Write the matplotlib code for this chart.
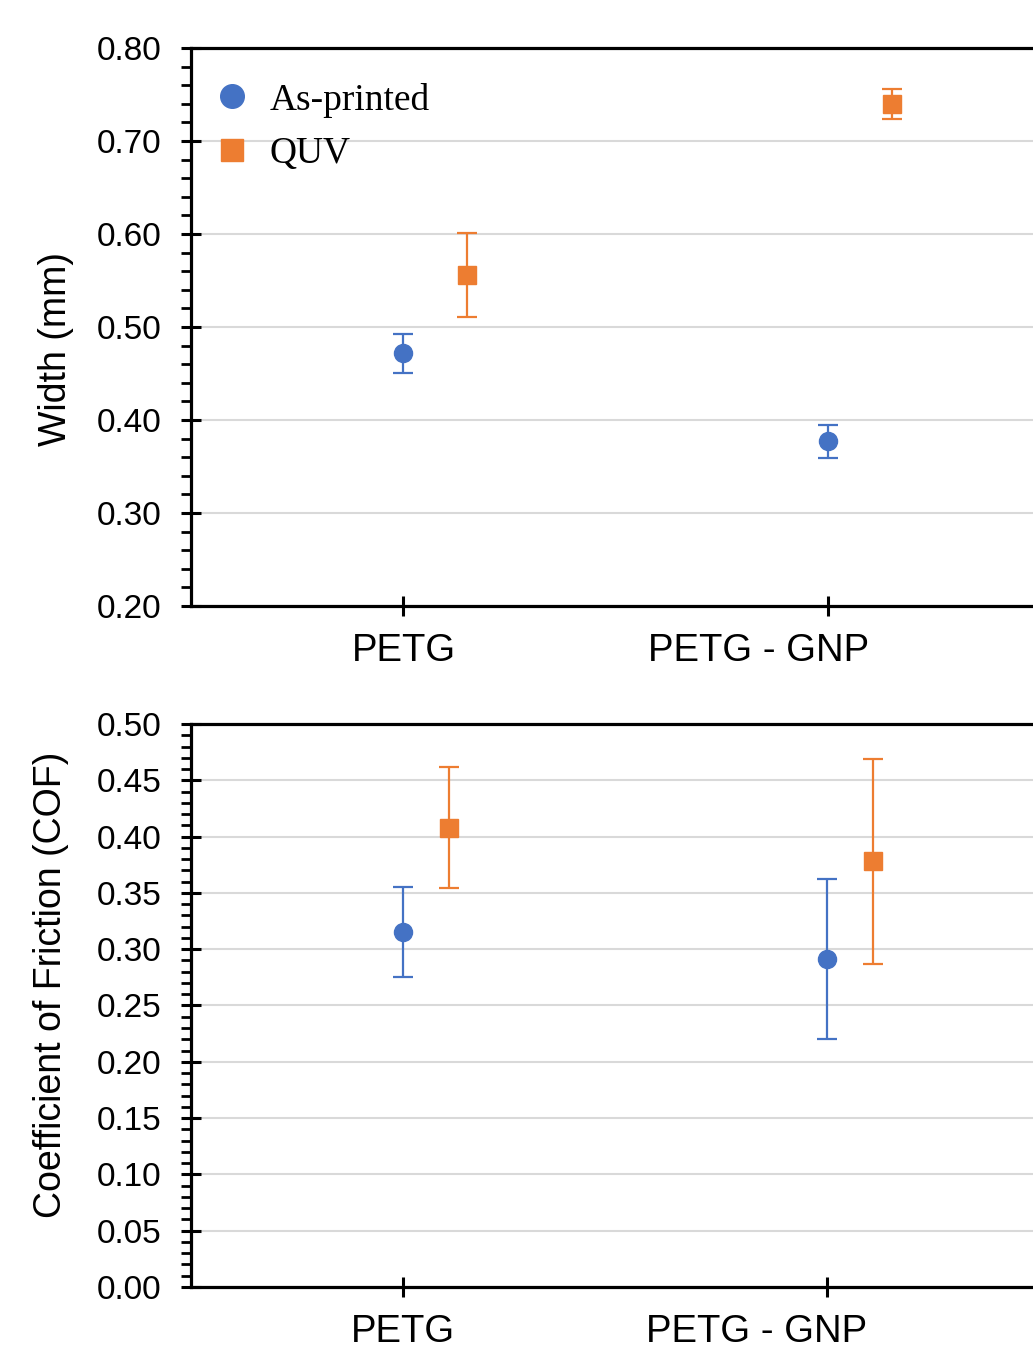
import matplotlib
matplotlib.use("Agg")
import matplotlib.pyplot as plt
import numpy as np
from matplotlib.ticker import MultipleLocator, FormatStrFormatter
from matplotlib.transforms import ScaledTranslation
from matplotlib.lines import Line2D

categories = ["PETG", "PETG - GNP"]
series = ["As-printed", "QUV"]

width_asprinted = [0.472, 0.377]
width_asprinted_err = [0.021, 0.018]
width_quv = [0.556, 0.740]
width_quv_err = [0.045, 0.016]

cof_asprinted = [0.315, 0.291]
cof_asprinted_err = [0.040, 0.071]
cof_quv = [0.408, 0.378]
cof_quv_err = [0.054, 0.091]

BLUE = "#4472C4"
ORANGE = "#ED7D31"

plt.rcParams['font.family'] = ['Liberation Sans', 'DejaVu Sans']

fig = plt.figure(figsize=(10.33, 13.5), dpi=100)
ax1 = fig.add_axes([0.1849, 0.5511, 0.8228, 0.4133])
ax2 = fig.add_axes([0.1849, 0.0467, 0.8209, 0.4170])

def style(ax, ylim, major, minor, ylabel, offset, a, ae, q, qe, labelpad, label_y):
    x = np.arange(len(categories))
    ax.errorbar(x, a, yerr=ae, fmt='o', color=BLUE, ecolor=BLUE, markersize=13,
                elinewidth=1.6, capsize=7, capthick=1.6, zorder=3)
    ax.errorbar(x + offset, q, yerr=qe, fmt='s', color=ORANGE, ecolor=ORANGE, markersize=13,
                elinewidth=1.6, capsize=7, capthick=1.6, zorder=3)
    ax.set_xlim(-0.5, 1.5)
    ax.set_ylim(*ylim)
    ax.set_xticks(x)
    ax.set_xticklabels(categories)
    ax.yaxis.set_major_locator(MultipleLocator(major))
    ax.yaxis.set_minor_locator(MultipleLocator(minor))
    ax.yaxis.set_major_formatter(FormatStrFormatter('%.2f'))
    ax.grid(axis='y', which='major', color='#d9d9d9', linewidth=1.5, zorder=0)
    ax.set_axisbelow(True)
    for s in ['left', 'bottom', 'top']:
        ax.spines[s].set_linewidth(2.3)
    ax.spines['right'].set_visible(False)
    ax.tick_params(axis='y', which='major', direction='inout', length=14, width=2.2,
                   labelsize=24, pad=14)
    ax.tick_params(axis='y', which='minor', direction='out', length=7, width=2.0)
    ax.tick_params(axis='x', which='major', direction='inout', length=15, width=2.2,
                   labelsize=27.5, pad=12)
    ax.set_ylabel(ylabel, fontsize=27, labelpad=labelpad)
    ax.yaxis.label.set_y(label_y)
    lab = ax.get_xticklabels()[1]
    lab.set_transform(lab.get_transform() + ScaledTranslation(-0.70, 0, fig.dpi_scale_trans))

style(ax1, (0.20, 0.80), 0.10, 0.02, "Width (mm)", 0.15,
      width_asprinted, width_asprinted_err, width_quv, width_quv_err, 16.5, 0.461)
style(ax2, (0.0, 0.50), 0.05, 0.01, "Coefficient of Friction (COF)", 0.108,
      cof_asprinted, cof_asprinted_err, cof_quv, cof_quv_err, 20, 0.536)

handles = [Line2D([], [], linestyle='none', marker='o', color=BLUE, markersize=17),
           Line2D([], [], linestyle='none', marker='s', color=ORANGE, markersize=16)]
ax1.legend(handles, series, loc='upper left', frameon=False,
           prop={'family': 'Liberation Serif', 'size': 27},
           handletextpad=0.4, borderaxespad=0.0, labelspacing=0.5, handlelength=1.2,
           bbox_to_anchor=(0.004, 0.965))

fig.savefig("out.png", dpi=100)
